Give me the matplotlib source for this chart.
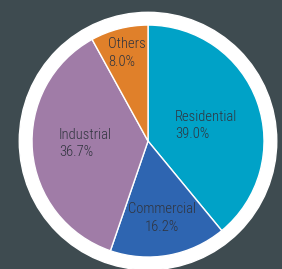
import matplotlib.pyplot as plt

labels = ['Residential', 'Commercial', 'Industrial', 'Others']
shares = [39.0, 16.2, 36.7, 8.0]
colors = ['#00a2c7', '#2e65b1', '#a07ca7', '#e0802a']

# label block centres, in units of the pie radius
label_pos = [(0.50, 0.134), (0.121, -0.664), (-0.539, -0.022), (-0.181, 0.759)]

plt.rcParams['font.family'] = ['Roboto Condensed', 'Liberation Sans Narrow', 'Roboto', 'DejaVu Sans']

fig = plt.figure(figsize=(2.82, 2.69), dpi=100)
fig.patch.set_facecolor('#3e4b50')
ax = fig.add_axes([0, 0, 1, 1])
ax.set_facecolor('#3e4b50')

ax.add_patch(plt.Circle((0, 0), 1.11, color='white', zorder=0))
ax.pie(shares, colors=colors, startangle=90, counterclock=False,
       wedgeprops=dict(edgecolor='white', linewidth=1.0))

for lab, v, (x, y) in zip(labels, shares, label_pos):
    ax.text(x, y, f'{lab}\n{v:.1f}%', ha='center', va='center',
            multialignment='left' if lab != 'Commercial' else 'center',
            fontsize=10.5, fontweight='light', color='#30343e', linespacing=1.3)

ax.set_xlim(-1.276, 1.155)
ax.set_ylim(-1.103, 1.216)
ax.set_aspect('equal')
ax.axis('off')

fig.savefig('out.png', dpi=100, facecolor=fig.get_facecolor())
